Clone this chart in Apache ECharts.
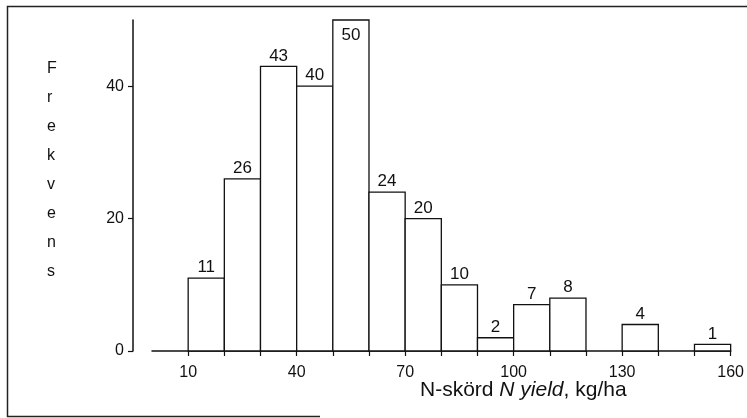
<!DOCTYPE html>
<html>
<head>
<meta charset="utf-8">
<style>
  html, body { margin: 0; padding: 0; background: #fff; }
  #chart { width: 747px; height: 418px; }
</style>
<script src="https://cdn.jsdelivr.net/npm/echarts@6/dist/echarts.min.js"></script>
</head>
<body>
<div id="chart"></div>
<script>
// Histogram of N yield (kg/ha), bins 10 kg/ha wide
const binStarts = [10, 20, 30, 40, 50, 60, 70, 80, 90, 100, 110, 120, 130, 140, 150];
const binWidth = 10;
const counts = [11, 26, 43, 40, 50, 24, 20, 10, 2, 7, 8, 0, 4, 0, 1];
const xTickValues = [10, 20, 30, 40, 50, 60, 70, 80, 90, 100, 110, 120, 130, 140, 150, 160];
const xLabelValues = [10, 40, 70, 100, 130, 160];
const yTickValues = [0, 20, 40];
const yTitleLetters = ['F', 'r', 'e', 'k', 'v', 'e', 'n', 's'];

const FONT = '"Liberation Sans", Arial, sans-serif';
const INK = '#111';

const histData = binStarts
  .map((s, i) => [s, s + binWidth, counts[i]])
  .filter(d => d[2] > 0);

const chart = echarts.init(document.getElementById('chart'), null, { renderer: 'canvas' });

chart.setOption({
  animation: false,
  backgroundColor: '#fff',
  grid: { left: 152, right: 15, top: 20, bottom: 67 },
  xAxis: {
    type: 'value',
    min: 0,
    max: 160,
    interval: 10,
    splitLine: { show: false },
    axisLine: { show: true, onZero: false, lineStyle: { color: INK, width: 1.5 } },
    axisTick: { show: true, customValues: xTickValues, length: 5, lineStyle: { color: INK, width: 1.2 } },
    axisLabel: {
      customValues: xLabelValues,
      color: INK, fontFamily: FONT, fontSize: 16, margin: 14
    }
  },
  yAxis: {
    type: 'value',
    min: 0,
    max: 50,
    offset: 19,
    splitLine: { show: false },
    axisLine: { show: true, onZero: false, lineStyle: { color: INK, width: 1.5 } },
    axisTick: { show: true, customValues: yTickValues, length: 5, lineStyle: { color: INK, width: 1.2 } },
    axisLabel: {
      customValues: yTickValues,
      color: INK, fontFamily: FONT, fontSize: 16, margin: 9
    }
  },
  graphic: [
    {
      // figure frame: top, left and part of the bottom edge
      type: 'polyline',
      shape: { points: [[320, 416.5], [7.5, 416.5], [7.5, 6.5], [747, 6.5]] },
      style: { stroke: '#222', lineWidth: 1.5, fill: null },
      silent: true
    },
    {
      type: 'text',
      left: 47,
      top: 54,
      style: {
        text: yTitleLetters.join('\n'),
        fontFamily: FONT, fontSize: 16, lineHeight: 29,
        fill: INK, align: 'center'
      }
    },
    {
      type: 'text',
      left: 420,
      top: 380,
      style: {
        text: '{a|N-skörd }{b|N yield}{a|, kg/ha}',
        fill: INK,
        rich: {
          a: { fontFamily: FONT, fontSize: 21, fill: INK },
          b: { fontFamily: FONT, fontSize: 21, fontStyle: 'italic', fill: INK }
        }
      }
    }
  ],
  series: [{
    type: 'custom',
    data: histData,
    encode: { x: [0, 1], y: 2 },
    clip: false,
    renderItem: function (params, api) {
      const x0 = api.value(0), x1 = api.value(1), v = api.value(2);
      const p0 = api.coord([x0, v]);
      const p1 = api.coord([x1, 0]);
      const inside = v >= 45;
      return {
        type: 'group',
        children: [
          {
            type: 'rect',
            shape: { x: p0[0], y: p0[1], width: p1[0] - p0[0], height: p1[1] - p0[1] },
            style: { fill: '#fff', stroke: INK, lineWidth: 1.3 }
          },
          {
            type: 'text',
            style: {
              text: String(v),
              x: (p0[0] + p1[0]) / 2,
              y: inside ? p0[1] + 7 : p0[1] - 2,
              align: 'center',
              verticalAlign: inside ? 'top' : 'bottom',
              fontFamily: FONT, fontSize: 17, fill: INK
            }
          }
        ]
      };
    }
  }]
});
</script>
</body>
</html>
